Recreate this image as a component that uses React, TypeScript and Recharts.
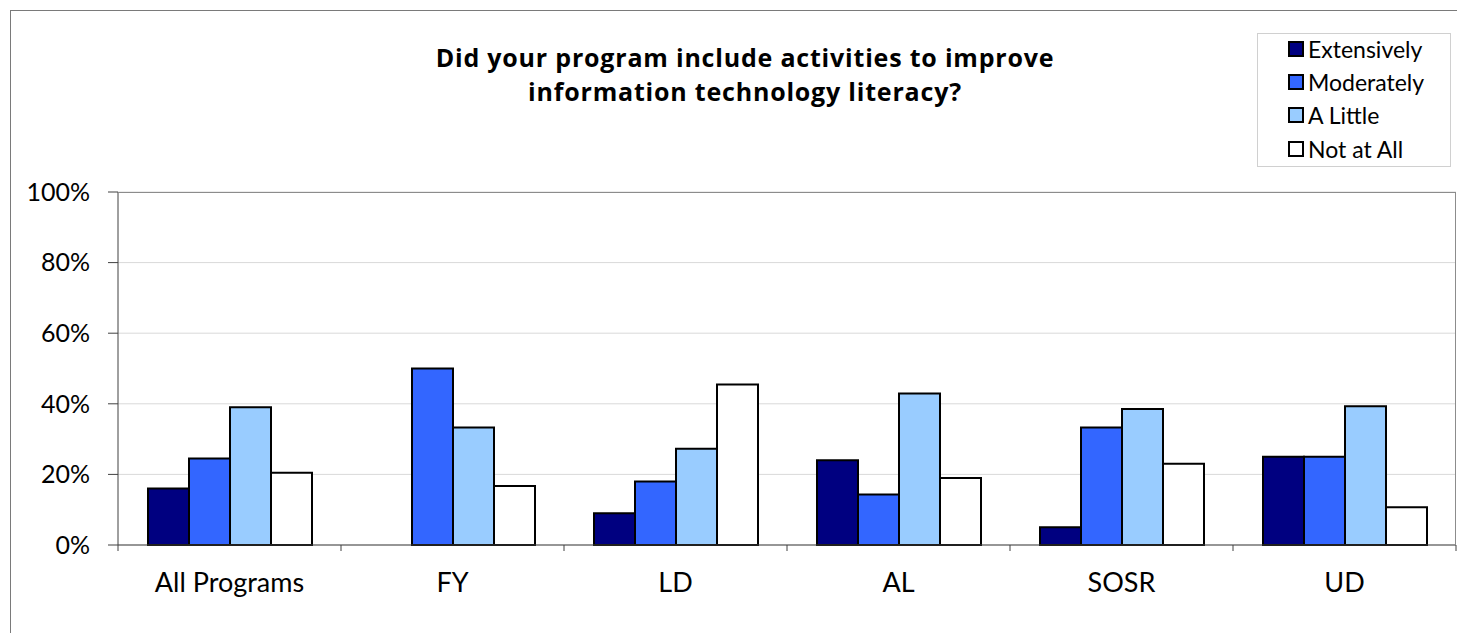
import React from "react";
import { BarChart, Bar, XAxis, YAxis, CartesianGrid } from "recharts";

const categories = ["All Programs", "FY", "LD", "AL", "SOSR", "UD"];
const extensively = [16, 0, 9, 24, 5, 25];
const moderately = [24.5, 50, 18, 14.3, 33.3, 25];
const aLittle = [39, 33.3, 27.3, 42.9, 38.5, 39.3];
const notAtAll = [20.5, 16.7, 45.5, 19, 23, 10.7];
const yTicks = [0, 20, 40, 60, 80, 100];
const titleLines = ["Did your program include activities to improve", "information technology literacy?"];

const seriesNames = ["Extensively", "Moderately", "A Little", "Not at All"];
const seriesColors = ["#000080", "#3366FF", "#99CCFF", "#FFFFFF"];
const seriesKeys = ["ext", "mod", "lit", "not"];

const data = categories.map((c, i) => ({
  name: c,
  ext: extensively[i],
  mod: moderately[i],
  lit: aLittle[i],
  not: notAtAll[i],
}));

const W = 1457;
const H = 633;
const M = { top: 192, right: 1, bottom: 0, left: 0 };
const X_H = 88;
const Y_W = 118;
const PLOT_W = W - M.left - M.right - Y_W;
const PLOT_H = H - M.top - M.bottom - X_H;
const FONT = "Lato, 'Open Sans', sans-serif";

const XTick = (props: any) => {
  const { x, y, payload, index } = props;
  const band = PLOT_W / categories.length;
  const left = x - band / 2;
  return (
    <g>
      <line x1={left} y1={y - 8} x2={left} y2={y - 2} stroke="#404040" strokeWidth={1} />
      {index === categories.length - 1 && (
        <line x1={left + band} y1={y - 8} x2={left + band} y2={y - 2} stroke="#404040" strokeWidth={1} />
      )}
      <text x={x} y={y + 39} textAnchor="middle" fontFamily={FONT} fontSize={27} fill="#000">
        {payload.value}
      </text>
    </g>
  );
};

const LegendBox = () => (
  <div
    style={{
      position: "absolute",
      left: 1257,
      top: 33,
      border: "1px solid #d0d0d0",
      background: "#fff",
      width: 194,
      height: 134,
      boxSizing: "border-box",
      padding: "0 0 0 30px",
      fontFamily: FONT,
      fontSize: 23,
      color: "#000",
    }}
  >
    <div style={{ position: "relative", top: -2 }}>
      {seriesNames.map((n, i) => (
        <div key={n} style={{ display: "flex", alignItems: "center", height: 33.4 }}>
          <span
            style={{
              display: "inline-block",
              width: 12,
              height: 12,
              background: seriesColors[i],
              border: "2px solid #000",
              marginRight: 4,
            }}
          />
          <span>{n}</span>
        </div>
      ))}
    </div>
  </div>
);

export default function App() {
  return (
    <div style={{ position: "absolute", left: 0, top: 0, width: W, height: H, background: "#fff", overflow: "hidden" }}>
      <div
        style={{
          position: "absolute",
          left: 10,
          top: 10,
          width: W,
          height: H,
          borderLeft: "1px solid #7a7a7a",
          borderTop: "1px solid #7a7a7a",
        }}
      />
      {titleLines.map((t, i) => (
        <div
          key={t}
          style={{
            position: "absolute",
            left: 0,
            top: 40 + i * 34,
            width: 1490,
            height: 34,
            textAlign: "center",
            fontFamily: "'Open Sans', sans-serif",
            fontWeight: 700,
            fontSize: 25,
            letterSpacing: 0.8,
            lineHeight: "34px",
            color: "#000",
          }}
        >
          {t}
        </div>
      ))}
      <div style={{ position: "absolute", left: 0, top: 0 }}>
        <BarChart
          width={W}
          height={H}
          data={data}
          margin={M}
          barGap={0}
          barCategoryGap={30}
        >
          <CartesianGrid vertical={false} stroke="#d9d9d9" strokeWidth={1} />
          <XAxis
            dataKey="name"
            axisLine={{ stroke: "#404040", strokeWidth: 1 }}
            tickLine={false}
            tick={<XTick />}
            interval={0}
            height={X_H}
          />
          <YAxis
            width={Y_W}
            domain={[0, 100]}
            ticks={yTicks}
            tickFormatter={(v: number) => `${v}%`}
            axisLine={{ stroke: "#404040", strokeWidth: 1 }}
            tickLine={{ stroke: "#404040" }}
            tickSize={10}
            tickMargin={18}
            tick={{ fontFamily: FONT, fontSize: 25, fill: "#000" }}
          />
          {seriesKeys.map((k, i) => (
            <Bar
              key={k}
              dataKey={k}
              name={seriesNames[i]}
              fill={seriesColors[i]}
              stroke="#000"
              strokeWidth={2}
              isAnimationActive={false}
            />
          ))}
        </BarChart>
      </div>
      <div
        style={{
          position: "absolute",
          left: M.left + Y_W,
          top: M.top,
          width: PLOT_W,
          height: PLOT_H,
          borderTop: "1px solid #8c8c8c",
          borderRight: "1px solid #8c8c8c",
          boxSizing: "border-box",
          pointerEvents: "none",
        }}
      />
      <LegendBox />
    </div>
  );
}
